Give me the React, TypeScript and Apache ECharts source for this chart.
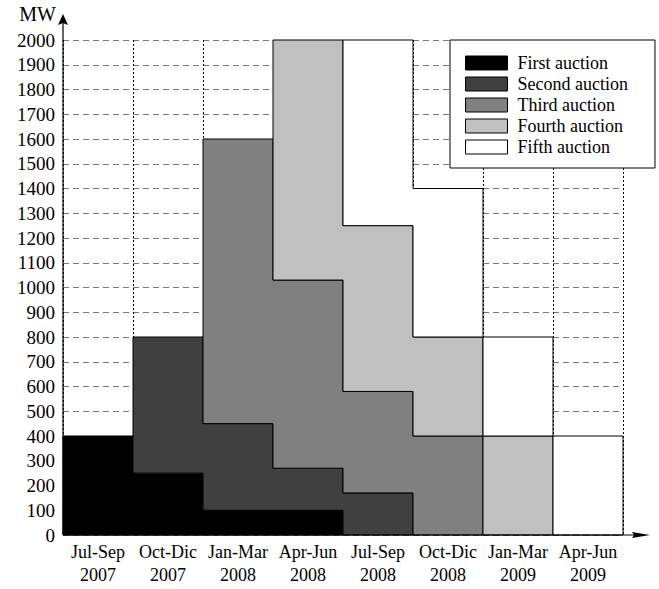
import React, { useEffect, useRef } from "react";
import * as echarts from "echarts";

const categories = [
  "Jul-Sep\n2007",
  "Oct-Dic\n2007",
  "Jan-Mar\n2008",
  "Apr-Jun\n2008",
  "Jul-Sep\n2008",
  "Oct-Dic\n2008",
  "Jan-Mar\n2009",
  "Apr-Jun\n2009",
];

const seriesNames = [
  "First auction",
  "Second auction",
  "Third auction",
  "Fourth auction",
  "Fifth auction",
];

const firstAuction = [400, 250, 100, 100, 0, 0, 0, 0];
const secondAuction = [0, 550, 350, 170, 170, 0, 0, 0];
const thirdAuction = [0, 0, 1150, 760, 410, 400, 0, 0];
const fourthAuction = [0, 0, 0, 970, 670, 400, 400, 0];
const fifthAuction = [0, 0, 0, 0, 750, 600, 400, 400];

const seriesColors = ["#000000", "#404040", "#808080", "#c0c0c0", "#ffffff"];

const yMin = 0;
const yMax = 2000;
const yInterval = 100;

const FONT = "Liberation Serif";

export default function App() {
  const ref = useRef<HTMLDivElement>(null);

  useEffect(() => {
    if (!ref.current) return;
    const chart = echarts.init(ref.current, null, { renderer: "svg" });

    const all = [firstAuction, secondAuction, thirdAuction, fourthAuction, fifthAuction];
    const bases: number[][] = [];
    const tops: number[][] = [];
    for (let s = 0; s < all.length; s++) {
      const b: number[] = [];
      const t: number[] = [];
      for (let i = 0; i < categories.length; i++) {
        const base = s === 0 ? 0 : tops[s - 1][i];
        b.push(base);
        t.push(base + all[s][i]);
      }
      bases.push(b);
      tops.push(t);
    }

    const series = all.map((vals, s) => ({
      type: "custom",
      name: seriesNames[s],
      itemStyle: { color: seriesColors[s], borderColor: "#000", borderWidth: 1 },
      data: vals.map((v, i) => [i, v]),
      renderItem: (params: any, api: any) => {
        if (params.dataIndex !== 0) return null;
        const active: number[] = [];
        vals.forEach((v, i) => {
          if (v > 0) active.push(i);
        });
        if (!active.length) return null;
        const i0 = active[0];
        const i1 = active[active.length - 1];
        const w = api.size([1, 0])[0];
        const pts: number[][] = [];
        for (let i = i0; i <= i1; i++) {
          const cx = api.coord([i, 0])[0];
          const yt = api.coord([i, tops[s][i]])[1];
          pts.push([cx - w / 2, yt], [cx + w / 2, yt]);
        }
        for (let i = i1; i >= i0; i--) {
          const cx = api.coord([i, 0])[0];
          const yb = api.coord([i, bases[s][i]])[1];
          pts.push([cx + w / 2, yb], [cx - w / 2, yb]);
        }
        return {
          type: "polygon",
          shape: { points: pts },
          style: { fill: seriesColors[s], stroke: "#000", lineWidth: 1 },
        };
      },
      z: 2,
    }));

    chart.setOption({
      animation: false,
      backgroundColor: "#fff",
      textStyle: { fontFamily: FONT },
      grid: { left: 63, top: 40, width: 560, height: 495, containLabel: false },
      xAxis: {
        type: "category",
        data: categories,
        boundaryGap: true,
        axisLine: { show: false },
        axisTick: { show: false },
        axisLabel: {
          interval: 0,
          margin: 5,
          fontFamily: FONT,
          fontSize: 18,
          lineHeight: 23,
          color: "#000",
        },
        splitLine: {
          show: true,
          interval: 0,
          lineStyle: { color: "#000", width: 1, type: [2, 2] },
        },
      },
      yAxis: {
        type: "value",
        min: yMin,
        max: yMax,
        interval: yInterval,
        axisLine: { show: false },
        axisTick: { show: false },
        axisLabel: {
          margin: 8,
          fontFamily: FONT,
          fontSize: 19,
          color: "#000",
          formatter: (v: number) => String(v),
        },
        splitLine: {
          show: true,
          lineStyle: { color: "#7a7a7a", width: 1, type: [6, 4] },
        },
      },
      legend: {
        orient: "vertical",
        left: 450,
        top: 40,
        padding: [14, 27, 12, 15],
        itemWidth: 42,
        itemHeight: 14,
        itemGap: 3,
        backgroundColor: "#fff",
        borderColor: "#000",
        borderWidth: 1,
        icon: "rect",
        textStyle: {
          fontFamily: FONT,
          fontSize: 18,
          color: "#000",
          padding: [0, 0, 0, 5],
        },
        data: seriesNames.map((n, s) => ({
          name: n,
          itemStyle: { color: seriesColors[s], borderColor: "#000", borderWidth: 1 },
        })),
      },
      graphic: [
        {
          type: "line",
          z: 100,
          shape: { x1: 63, y1: 535, x2: 63, y2: 22 },
          style: { stroke: "#000", lineWidth: 1.2 },
        },
        {
          type: "polygon",
          z: 100,
          shape: { points: [[58, 25], [63, 14], [68, 25], [63, 23]] },
          style: { fill: "#000" },
        },
        {
          type: "line",
          z: 100,
          shape: { x1: 63, y1: 535, x2: 636, y2: 535 },
          style: { stroke: "#000", lineWidth: 1.2 },
        },
        {
          type: "polygon",
          z: 100,
          shape: { points: [[632, 532], [650, 535], [632, 538], [634, 535]] },
          style: { fill: "#000" },
        },
        {
          type: "text",
          z: 100,
          x: 56,
          y: 14,
          style: {
            text: "MW",
            fontFamily: FONT,
            fontSize: 20,
            fill: "#000",
            align: "right",
            verticalAlign: "middle",
          },
        },
      ],
      series,
    });

    return () => chart.dispose();
  }, []);

  return <div ref={ref} style={{ width: 659, height: 589, position: "absolute", left: 0, top: 0 }} />;
}
